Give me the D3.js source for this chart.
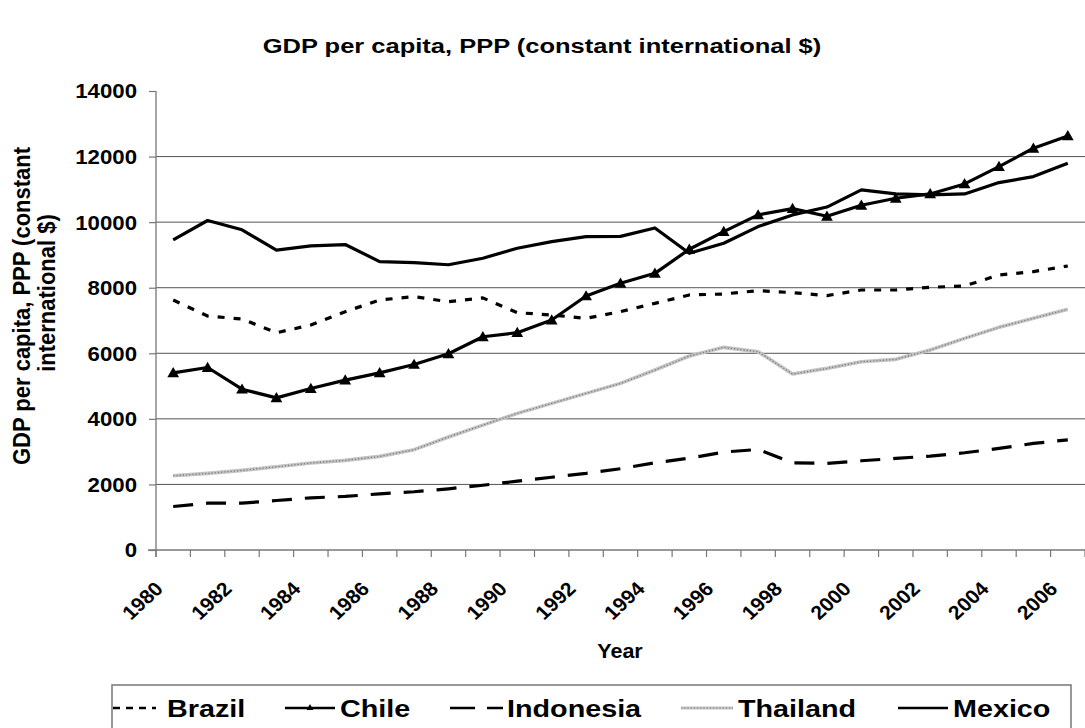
<!DOCTYPE html>
<html>
<head>
<meta charset="utf-8">
<script src="https://cdn.jsdelivr.net/npm/d3@7"></script>
<style>
  html, body { margin: 0; padding: 0; background: #fff; }
  svg { display: block; }
  text { font-family: "Liberation Sans", Arial, sans-serif; font-weight: bold; fill: #000; }
</style>
</head>
<body>
<svg id="chart" width="1085" height="728"></svg>
<script>
// ---- data ----
const years = [1980,1981,1982,1983,1984,1985,1986,1987,1988,1989,1990,1991,1992,1993,1994,1995,1996,1997,1998,1999,2000,2001,2002,2003,2004,2005,2006];
const brazil    = [7625,7136,7045,6627,6862,7269,7625,7727,7574,7690,7239,7168,7066,7270,7524,7779,7809,7911,7850,7760,7931,7931,8012,8053,8389,8491,8663];
const chile     = [5404,5567,4904,4640,4925,5180,5404,5659,5985,6505,6629,7015,7748,8134,8439,9172,9711,10220,10413,10179,10515,10728,10861,11166,11695,12254,12631];
const indonesia = [1327,1429,1429,1510,1592,1633,1714,1776,1867,1975,2100,2220,2336,2480,2661,2800,2987,3068,2661,2641,2722,2793,2865,2966,3098,3250,3360];
const thailand  = [2265,2336,2428,2540,2652,2734,2856,3060,3447,3810,4167,4472,4777,5082,5489,5916,6181,6049,5367,5540,5743,5815,6100,6456,6791,7066,7341];
const mexico    = [9460,10050,9766,9144,9276,9317,8797,8767,8700,8900,9203,9406,9559,9565,9823,9050,9356,9864,10220,10460,10983,10861,10830,10861,11207,11390,11797];
const yTicks = [0,2000,4000,6000,8000,10000,12000,14000];
const xLabelYears = years.filter(y => y % 2 === 0);
const seriesNames = ["Brazil","Chile","Indonesia","Thailand","Mexico"];

const title = "GDP per capita, PPP (constant international $)";
const yTitle1 = "GDP per capita, PPP (constant";
const yTitle2 = "international $)";
const xTitle = "Year";

// ---- layout ----
const svg = d3.select("#chart");
const L = 156, R = 1085, T = 91, B = 550;

const x = d3.scaleBand().domain(years).range([L, R]).padding(0);
const y = d3.scaleLinear().domain([0, 14000]).range([B, T]);
const cx = d => x(d) + x.bandwidth() / 2;

// gridlines
svg.append("g").selectAll("line").data(yTicks.filter(t => t > 0 && t < 14000)).join("line")
  .attr("x1", L).attr("x2", R).attr("y1", d => y(d)).attr("y2", d => y(d))
  .attr("stroke", "#555").attr("stroke-width", 1);

// y axis
const gy = svg.append("g").attr("transform", `translate(${L},0)`)
  .call(d3.axisLeft(y).tickValues(yTicks).tickSize(7).tickFormat(d3.format("d")));
gy.select(".domain").attr("stroke", "#777").attr("stroke-width", 1.3).attr("d", `M0,${T}V${B+7}`);
gy.selectAll(".tick line").attr("stroke", "#777").attr("stroke-width", 1.2);
gy.selectAll(".tick text")
  .attr("x", 0).attr("dy", null).attr("y", 0)
  .attr("text-anchor", "end").attr("dominant-baseline", "central")
  .style("font-size", "19.5px")
  .attr("transform", `translate(-19,0) scale(1.14,1)`);

// x axis line + ticks at category boundaries
const gx = svg.append("g").attr("transform", `translate(0,${B})`);
gx.append("line").attr("x1", L - 8).attr("x2", R).attr("y1", 0).attr("y2", 0)
  .attr("stroke", "#777").attr("stroke-width", 1.3);
gx.selectAll("line.tk").data(years.concat([null])).join("line").attr("class", "tk")
  .attr("x1", d => d === null ? R : x(d)).attr("x2", d => d === null ? R : x(d))
  .attr("y1", 0).attr("y2", 7).attr("stroke", "#777").attr("stroke-width", 1.2);
gx.selectAll("text").data(xLabelYears).join("text")
  .attr("text-anchor", "end")
  .style("font-size", "19.5px")
  .attr("transform", d => `translate(${cx(d) - 9},40) scale(1.08,1) rotate(-45)`)
  .text(d => d);

// axis titles
svg.append("text").attr("text-anchor", "middle").style("font-size", "20px")
  .attr("transform", `translate(542,53) scale(1.275,1)`).text(title);
svg.append("text").attr("text-anchor", "middle").style("font-size", "20.5px")
  .attr("transform", `translate(620,658) scale(1.05,1)`).text(xTitle);
svg.append("text").attr("text-anchor", "middle").style("font-size", "22px")
  .attr("transform", `translate(30,306) scale(1.08,1) rotate(-90)`).text(yTitle1);
svg.append("text").attr("text-anchor", "middle").style("font-size", "22px")
  .attr("transform", `translate(55,293) scale(1.08,1) rotate(-90)`).text(yTitle2);

// ---- series ----
const styles = {
  Brazil:    {stroke: "#000", width: 3.2, dash: "7,9", legendDash: "7,6"},
  Chile:     {stroke: "#000", width: 3.2, dash: null, marker: true},
  Indonesia: {stroke: "#000", width: 3.2, dash: "20,13", legendDash: "25,12"},
  Thailand:  {stroke: "#c4c4c4", width: 3.6, dash: null, texture: true},
  Mexico:    {stroke: "#000", width: 3.2, dash: null}
};
const seriesData = {Brazil: brazil, Chile: chile, Indonesia: indonesia, Thailand: thailand, Mexico: mexico};
const line = d3.line().x((d, i) => cx(years[i])).y(d => y(d));
const tri = d3.symbol().type(d3.symbolTriangle).size(60);

const drawOrder = ["Thailand","Indonesia","Brazil","Mexico","Chile"];
drawOrder.forEach(name => {
  const s = styles[name], vals = seriesData[name];
  svg.append("path").datum(vals).attr("d", line).attr("fill", "none")
    .attr("stroke", s.stroke).attr("stroke-width", s.width)
    .attr("stroke-dasharray", s.dash).attr("stroke-linejoin", "round");
  if (s.texture) {
    svg.append("path").datum(vals).attr("d", line).attr("fill", "none")
      .attr("stroke", "#7a7a7a").attr("stroke-width", 1.3).attr("stroke-dasharray", "1.2,2");
  }
  if (s.marker) {
    svg.append("g").selectAll("path").data(vals).join("path")
      .attr("d", tri).attr("fill", "#000")
      .attr("transform", (d, i) => `translate(${cx(years[i])},${y(d) + 1})`);
  }
});

// ---- legend ----
const lg = svg.append("g");
lg.append("rect").attr("x", 112).attr("y", 685).attr("width", 959).attr("height", 60)
  .attr("fill", "#fff").attr("stroke", "#777").attr("stroke-width", 1.5);
const legendPos = {Brazil: 113, Chile: 285, Indonesia: 450, Thailand: 681, Mexico: 898};
const legendSymW = {Brazil: 43, Chile: 50, Indonesia: 53, Thailand: 52, Mexico: 50};
const legendGap = {Brazil: 11, Chile: 5, Indonesia: 4, Thailand: 5, Mexico: 5};
const ly = 708;
seriesNames.forEach(name => {
  const s = styles[name], x0 = legendPos[name], sw = legendSymW[name];
  lg.append("line").attr("x1", x0).attr("x2", x0 + sw).attr("y1", ly).attr("y2", ly)
    .attr("stroke", s.stroke).attr("stroke-width", name === "Thailand" ? 3 : 2.6)
    .attr("stroke-dasharray", s.legendDash || null);
  if (s.texture) {
    lg.append("line").attr("x1", x0).attr("x2", x0 + sw).attr("y1", ly).attr("y2", ly)
      .attr("stroke", "#7a7a7a").attr("stroke-width", 1.2).attr("stroke-dasharray", "1.2,2");
  }
  if (s.marker) {
    lg.append("path").attr("d", d3.symbol().type(d3.symbolTriangle).size(20))
      .attr("transform", `translate(${x0 + sw / 2},${ly})`).attr("fill", "#000");
  }
  lg.append("text").style("font-size", "23px")
    .attr("transform", `translate(${x0 + sw + legendGap[name]},716.5) scale(1.25,1)`).text(name);
});
</script>
</body>
</html>
